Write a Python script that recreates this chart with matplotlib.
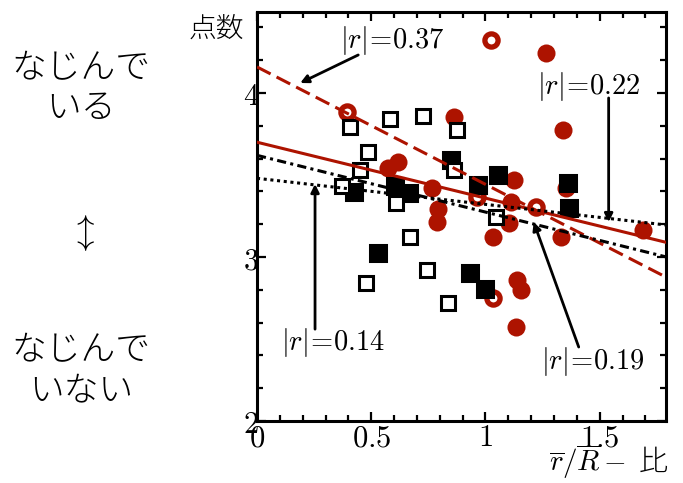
import matplotlib
matplotlib.use("Agg")
import matplotlib.pyplot as plt
import numpy as np
from matplotlib.ticker import FixedLocator, FixedFormatter, MultipleLocator

plt.rcParams['font.family'] = ['Noto Sans CJK JP', 'DejaVu Sans']
plt.rcParams['mathtext.fontset'] = 'cm'

RED = '#ad1300'

# ---- data ----
open_sq_x = [0.408, 0.583, 0.728, 0.877, 0.487, 0.452, 0.373, 0.610, 0.864, 1.044, 0.671, 0.478, 0.746, 0.838]
open_sq_y = [3.793, 3.841, 3.860, 3.774, 3.640, 3.530, 3.433, 3.329, 3.530, 3.244, 3.122, 2.841, 2.921, 2.720]

fill_sq_x = [0.425, 0.531, 0.605, 0.667, 0.851, 0.934, 1.000, 1.053, 0.969, 1.360, 1.364]
fill_sq_y = [3.396, 3.024, 3.433, 3.390, 3.591, 2.902, 2.805, 3.500, 3.439, 3.451, 3.299]

red_fill_x = [1.263, 1.338, 0.860, 0.575, 0.618, 0.768, 0.794, 0.789, 1.123, 1.110, 1.101,
              1.031, 1.329, 1.351, 1.689, 1.140, 1.154, 1.132]
red_fill_y = [4.244, 3.774, 3.854, 3.543, 3.579, 3.421, 3.293, 3.213, 3.470, 3.335, 3.207,
              3.122, 3.122, 3.421, 3.165, 2.860, 2.799, 2.573]

red_open_x = [1.022, 0.395, 0.965, 1.219, 1.035]
red_open_y = [4.323, 3.884, 3.366, 3.305, 2.750]

# fitted lines: intercept, slope
fit_intercepts = [4.159, 3.700, 3.620, 3.480]
fit_slopes = [-0.716, -0.341, -0.346, -0.159]
fit_colors = [RED, RED, 'black', 'black']
fit_styles = [(0, (5, 2.2)), '-', (0, (3, 1.4, 1, 1.4)), (0, (1, 1.2))]

# annotations: label, text pos, arrow tail, arrow head
ann_labels = [r'$|r|\!=\!0.37$', r'$|r|\!=\!0.22$', r'$|r|\!=\!0.14$', r'$|r|\!=\!0.19$']
ann_text_xy = [(0.592, 4.323), (1.452, 4.037), (0.333, 2.476), (1.469, 2.360)]
ann_tail_xy = [(0.443, 4.232), (1.539, 3.970), (0.254, 2.560), (1.408, 2.451)]
ann_head_xy = [(0.189, 4.061), (1.539, 3.213), (0.254, 3.445), (1.211, 3.213)]

x_ticks = [0, 0.5, 1, 1.5]
x_ticklabels = ['$0$', '$0.5$', '$1$', '$1.5$']
y_ticks = [2, 3, 4]
y_ticklabels = ['$2$', '$3$', '$4$']

# ---- figure ----
fig = plt.figure(figsize=(6.83, 4.83), dpi=100)
ax = fig.add_axes([257/683, 1-421/483, (666-257)/683, (421-12)/483])
ax.set_xlim(0, 1.79)
ax.set_ylim(2, 4.494)

ax.plot(red_fill_x, red_fill_y, 'o', ms=13, color=RED, mec=RED, mew=0, zorder=2)
ax.plot(red_open_x, red_open_y, 'o', ms=9.5, mfc='white', mec=RED, mew=3.8, zorder=2.1)
ax.plot(fill_sq_x, fill_sq_y, 's', ms=11, color='black', mew=2.2, zorder=2.2)
ax.plot(open_sq_x, open_sq_y, 's', ms=10.5, mfc='white', mec='black', mew=2.2, zorder=2.3)

xs = np.array(ax.get_xlim())
for b, m, c, ls in zip(fit_intercepts, fit_slopes, fit_colors, fit_styles):
    ax.plot(xs, b + m * xs, color=c, ls=ls, lw=2.2, zorder=3)

for lab, txy, tail, head in zip(ann_labels, ann_text_xy, ann_tail_xy, ann_head_xy):
    ax.text(txy[0], txy[1], lab, fontsize=20.5, ha='center', va='center', zorder=4)
    ax.annotate('', xy=head, xytext=tail,
                arrowprops=dict(arrowstyle='-|>', lw=2.0, color='black',
                                mutation_scale=12, shrinkA=0, shrinkB=0), zorder=4)

ax.xaxis.set_major_locator(FixedLocator(x_ticks))
ax.xaxis.set_major_formatter(FixedFormatter(x_ticklabels))
ax.xaxis.set_minor_locator(MultipleLocator(0.1))
ax.yaxis.set_major_locator(FixedLocator(y_ticks))
ax.yaxis.set_major_formatter(FixedFormatter(y_ticklabels))
ax.yaxis.set_minor_locator(MultipleLocator(0.2))

ax.tick_params(which='both', direction='in', top=True, right=True, width=1.6)
ax.tick_params(which='major', length=6.5, labelsize=22)
ax.tick_params(which='minor', length=4)
ax.tick_params(axis='y', which='major', pad=-1.5)
ax.tick_params(axis='x', which='major', pad=1)
for sp in ax.spines.values():
    sp.set_linewidth(2.2)

# axis labels
fig.text(216/683, 1-29/483, '点数', fontsize=20, ha='center', va='center', fontweight='light')
fig.text(609/683, 1-462/483, r'$\overline{r}/\overline{R}-$ 比', fontsize=21, ha='center', va='center', fontweight='light')

# left side labels
fig.text(81/683, 1-88/483, 'なじんで\nいる', fontsize=25, ha='center', va='center', linespacing=1.15, fontweight='light')
fig.text(82/683, 1-233/483, r'$\updownarrow$', fontsize=25, ha='center', va='center')
fig.text(81/683, 1-370/483, 'なじんで\nいない', fontsize=25, ha='center', va='center', linespacing=1.15, fontweight='light')

fig.savefig('out.png', dpi=100)
